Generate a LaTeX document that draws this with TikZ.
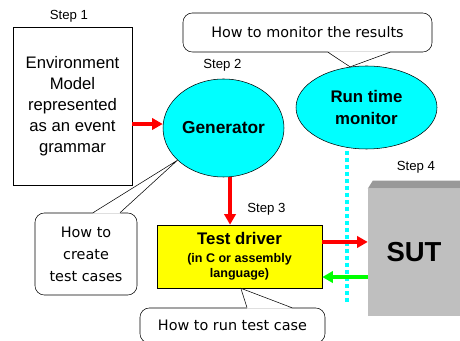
\documentclass[tikz,border=0pt]{standalone}
\usepackage{fontspec}
\setmainfont{Liberation Sans}
\newfontfamily\handfont{DejaVu Sans}
\usepackage{tikz}
\usetikzlibrary{arrows.meta,calc,shapes.geometric}
\definecolor{aqua}{RGB}{0,255,255}
\definecolor{lemon}{RGB}{255,255,0}
\definecolor{lime}{RGB}{0,255,0}
\definecolor{tomato}{RGB}{255,0,0}
\tikzset{
  steplabel/.style={font=\fontsize{9.9}{12}\selectfont, inner sep=0pt},
  bubble/.style={ellipse, draw, fill=aqua, align=center, inner sep=0pt,
    font=\bfseries\fontsize{13}{15}\selectfont},
  callout/.style={draw, fill=white, rounded corners=7pt, align=center, inner sep=0pt,
    font=\handfont\fontsize{10.8}{16.5}\selectfont},
  redarrow/.style={draw=tomato, line width=3pt, -{Triangle[length=8pt,width=8.5pt]}},
  greenarrow/.style={draw=lime, line width=3pt, -{Triangle[length=8pt,width=8.5pt]}},
}
\begin{document}
\begin{tikzpicture}[x=0.75pt,y=-0.75pt]
\useasboundingbox (0,0) rectangle (460,341);

\node[steplabel] (s1) at (69,16) {Step 1};
\node[steplabel] (s2) at (222.5,65) {Step 2};
\node[steplabel] (s3) at (266.5,209) {Step 3};
\node[steplabel] (s4) at (416,167) {Step 4};

\node[draw, fill=white, minimum width=89.25pt, minimum height=118.5pt, inner sep=0pt, align=center,
  font=\fontsize{12.5}{15.75}\selectfont] (env) at (72.5,106)
  {Environment\\Model\\represented\\as an event\\grammar};

\node[bubble, minimum width=90.75pt, minimum height=73.5pt] (gen) at (223.5,128) {Generator};
\node[bubble, minimum width=105.75pt, minimum height=62.25pt,
  font=\bfseries\fontsize{12.6}{16}\selectfont] (rtm) at (366.5,107.5) {Run time\\monitor};

\coordinate (dtop) at (347,151);
\coordinate (dbot) at (347,303);
\draw[aqua, line width=3pt, dash pattern=on 3pt off 2.25pt] (dtop) -- (dbot);

\node[draw, fill=lemon, minimum width=123.75pt, minimum height=47.25pt, inner sep=0pt, align=center,
  font=\bfseries\fontsize{9.4}{11.5}\selectfont] (td) at (239.5,256.5)
  {{\fontsize{12.6}{15}\selectfont Test driver}\\[2pt](in C or assembly\\language)};

\node[fill=black!25, minimum width=69pt, minimum height=95.25pt, inner sep=0pt,
  font=\bfseries\fontsize{20.6}{24}\selectfont] (sut) at (414,252.5) {SUT};
\fill[black!40] (sut.north west) -- ([xshift=3.75pt,yshift=6pt]sut.north west)
  -- ([yshift=6pt]sut.north east) -- (sut.north east) -- cycle;

\coordinate (g1) at ([yshift=3pt]gen.west);
\draw[redarrow] (g1 -| env.east) -- (g1);
\coordinate (g2) at ([xshift=4.9pt]gen.south);
\draw[redarrow] (g2) -- (g2 |- td.north);
\coordinate (t1) at ([yshift=10.9pt]td.east);
\draw[redarrow] (t1) -- (t1 -| sut.west);
\coordinate (t2) at ([yshift=-15.4pt]td.east);
\draw[greenarrow] (t2 -| sut.west) -- (t2);

\node[callout, minimum width=186.75pt, minimum height=29.25pt] (mon) at (307.5,32.5)
  {How to monitor the results};
\node[callout, minimum width=76.5pt, minimum height=61.5pt] (cre) at (86,254)
  {How to\\create\\test cases};
\node[callout, minimum width=138.75pt, minimum height=26.25pt] (run) at (232.5,325.5)
  {How to run test case};

\fill[white] ([xshift=15.4pt,yshift=0.6pt]mon.south) -- (rtm.112) -- ([xshift=61.9pt,yshift=0.6pt]mon.south) -- cycle;
\draw ([xshift=15.4pt]mon.south) -- (rtm.112) -- ([xshift=61.9pt]mon.south);
\fill[white] ([xshift=5.25pt,yshift=-0.6pt]cre.north) -- (gen.215) -- ([xshift=25.5pt,yshift=-0.6pt]cre.north) -- cycle;
\draw ([xshift=5.25pt]cre.north) -- (gen.215) -- ([xshift=25.5pt]cre.north);
\fill[white] ([xshift=10.9pt,yshift=-0.6pt]run.north) -- ([xshift=1pt]td.south) -- ([xshift=44.6pt,yshift=-0.6pt]run.north) -- cycle;
\draw ([xshift=10.9pt]run.north) -- ([xshift=1pt]td.south) -- ([xshift=44.6pt]run.north);
\end{tikzpicture}
\end{document}
